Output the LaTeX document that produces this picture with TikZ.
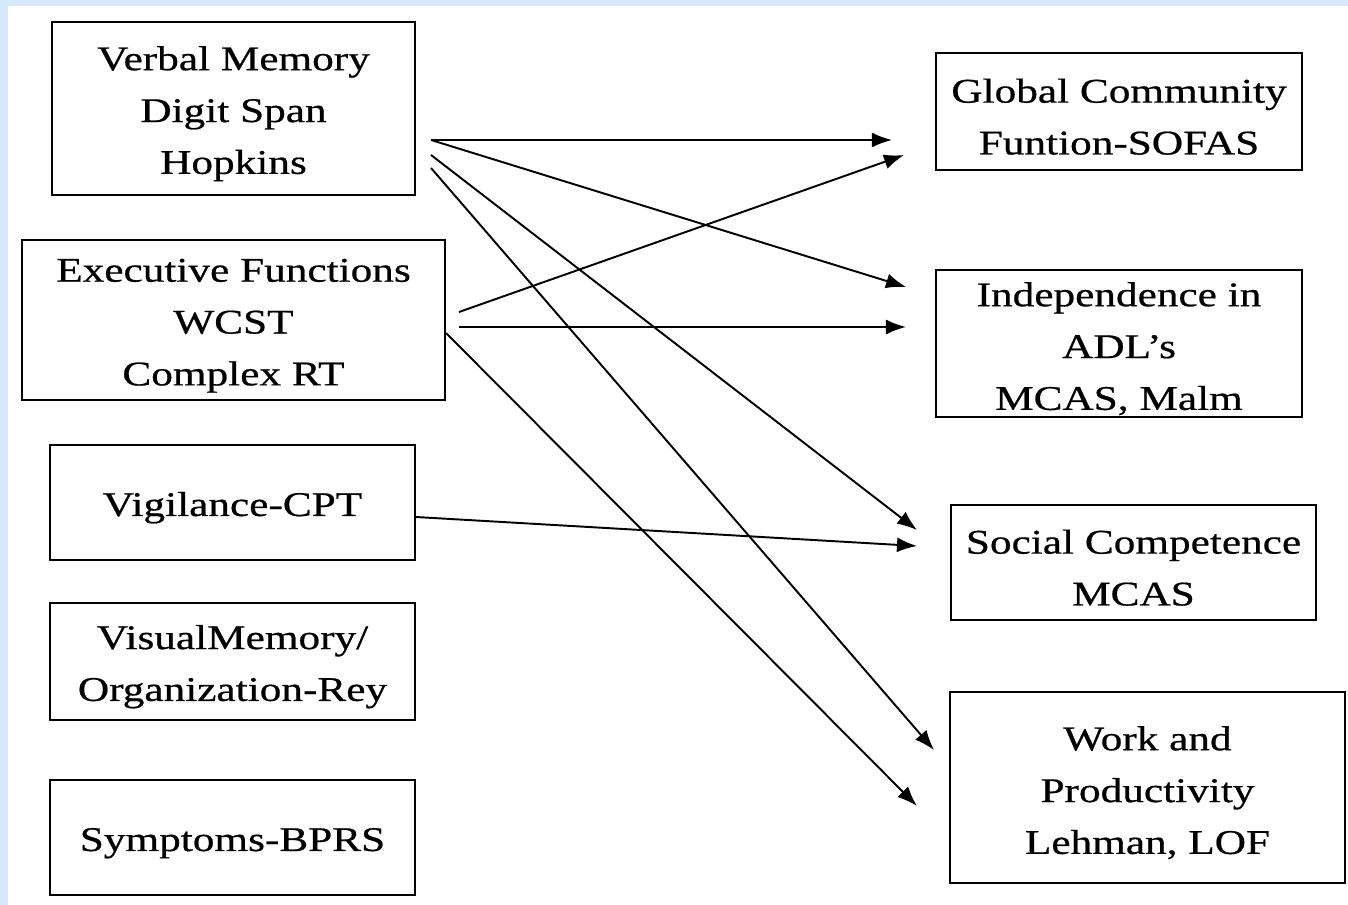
\documentclass[tikz,border=0pt]{standalone}
\usepackage{fontspec}
\setmainfont{Liberation Serif}[FakeStretch=1.25,FakeBold=0.6]
\usepackage{tikz}
\usetikzlibrary{arrows.meta}

\definecolor{edgeblue}{RGB}{214,232,251}

\begin{document}
\begin{tikzpicture}[x=0.02cm,y=-0.02cm]

\tikzset{box/.style={draw, line width=1.2pt, align=center, inner sep=0pt,
    font=\fontsize{19.7}{29.5}\selectfont},
%text sits a little low in the boxes
oneline/.style={box, text height=19.6pt},
twolines/.style={box, text height=49.1pt},
threelines/.style={box, text height=78.6pt},
link/.style={line width=1.1pt, -{Latex[length=4mm,width=3mm]}}}

\newcommand{\boxw}{7.3cm}
\newcommand{\boxh}{2.3cm}

% page with the blue edge
\fill [edgeblue] (0,0) rectangle (1348,905);
\fill [white] (8,6) rectangle (1348,905);
\useasboundingbox (0,0) rectangle (1348,905);

% left column
\node [threelines,minimum width=7.26cm,minimum height=3.46cm] (verbal) at (233.5,108.5) {Verbal Memory\\Digit Span\\Hopkins};
\node [threelines,minimum width=8.46cm,minimum height=3.2cm] (exec) at (233.5,320) {Executive Functions\\WCST\\Complex RT};
\node [oneline,minimum width=\boxw,minimum height=\boxh] (vigil) at (232.5,502.5) {Vigilance-CPT};
\node [twolines,minimum width=\boxw,minimum height=2.34cm] (visual) at (232.5,661.5) {VisualMemory/\\Organization-Rey};
\node [oneline,minimum width=\boxw,minimum height=\boxh] (sympt) at (232.5,837.5) {Symptoms-BPRS};

% right column
\node [twolines,minimum width=7.32cm,minimum height=2.34cm] (global) at (1119,111.5) {Global Community\\Funtion-SOFAS};
\node [threelines,minimum width=7.32cm,minimum height=2.94cm] (indep) at (1119,343.5) {Independence in\\ADL’s\\MCAS, Malm};
\node [twolines,minimum width=\boxw,minimum height=\boxh] (social) at (1133.5,562.5) {Social Competence\\MCAS};
\node [threelines,minimum width=7.9cm,minimum height=3.82cm] (work) at (1147.5,787.5) {Work and\\Productivity\\Lehman, LOF};

\draw [link] ([shift={(15,31.5)}]verbal.east) -- ([shift={(-43,28.5)}]global.west);
\draw [link] ([shift={(15,31.5)}]verbal.east) -- ([shift={(-29,-56.5)}]indep.west);
\draw [link] ([shift={(15,46.5)}]verbal.east) -- ([shift={(-33,-32.5)}]social.west);
\draw [link] ([shift={(15,59.5)}]verbal.east) -- ([shift={(-15,-37.5)}]work.west);

\draw [link] ([shift={(13,-8)}]exec.east) -- ([shift={(-31,43.5)}]global.west);
\draw [link] ([shift={(13,7)}]exec.east) -- ([shift={(-29,-16.5)}]indep.west);
\draw [link] ([shift={(0,13)}]exec.east) -- ([shift={(-32,18.5)}]work.west);

\draw [link] ([shift={(0,14.5)}]vigil.east) -- ([shift={(-33,-16.5)}]social.west);

\end{tikzpicture}
\end{document}
